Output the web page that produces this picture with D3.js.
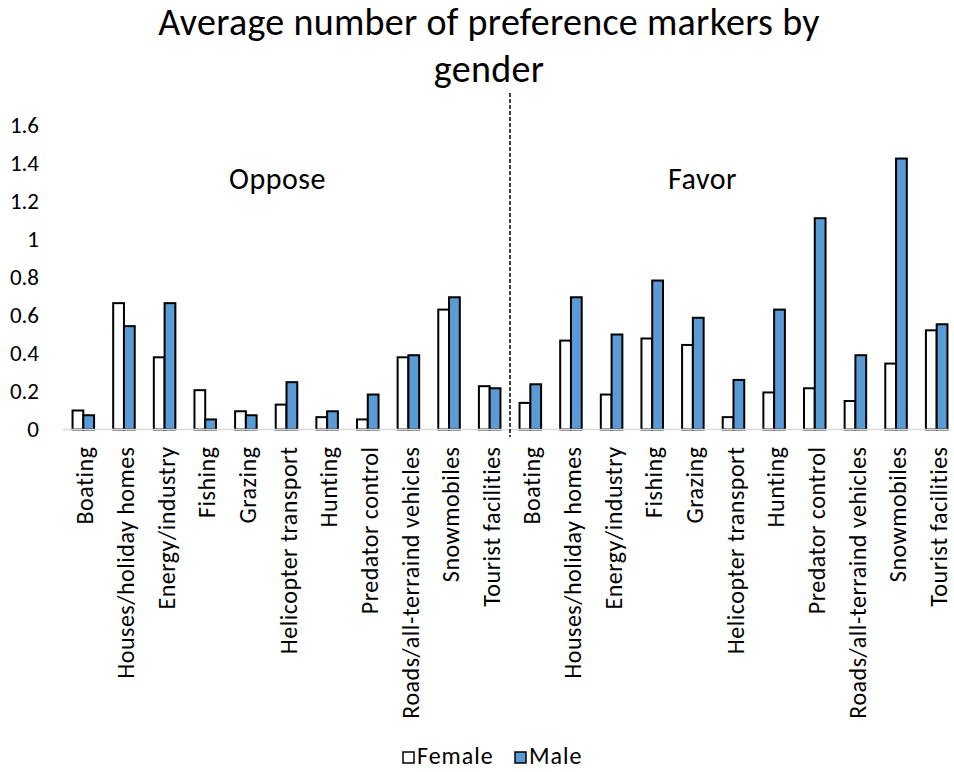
<!DOCTYPE html>
<html>
<head>
<meta charset="utf-8">
<script src="https://cdn.jsdelivr.net/npm/d3@7"></script>
<style>
  body { margin: 0; background: #fff; }
  svg text { font-family: Carlito, Calibri, Lato, sans-serif; fill: #000; }
</style>
</head>
<body>
<div id="chart"></div>
<script>
const activities = ["Boating", "Houses/holiday homes", "Energy/industry", "Fishing", "Grazing",
  "Helicopter transport", "Hunting", "Predator control", "Roads/all-terraind vehicles",
  "Snowmobiles", "Tourist facilities"]
const groups = ["Oppose", "Favor"]
const series = ["Female", "Male"]

// values, oppose block first then favor block
const femaleOppose = [0.10, 0.665, 0.38, 0.207, 0.096, 0.131, 0.065, 0.053, 0.38, 0.631, 0.228]
const maleOppose   = [0.075, 0.544, 0.665, 0.053, 0.075, 0.249, 0.096, 0.184, 0.391, 0.696, 0.217]
const femaleFavor  = [0.14, 0.468, 0.184, 0.479, 0.445, 0.065, 0.195, 0.217, 0.15, 0.347, 0.522]
const maleFavor    = [0.238, 0.696, 0.50, 0.784, 0.588, 0.261, 0.631, 1.112, 0.391, 1.426, 0.554]
const yTicks = [0, 0.2, 0.4, 0.6, 0.8, 1, 1.2, 1.4, 1.6]

const width = 954, height = 772
const blue = "#5b9bd5"

var rows = []
activities.forEach((a, i) => rows.push({ key: "o" + i, label: a, Female: femaleOppose[i], Male: maleOppose[i] }))
activities.forEach((a, i) => rows.push({ key: "f" + i, label: a, Female: femaleFavor[i], Male: maleFavor[i] }))

var svg = d3.select("#chart")
  .append("svg")
    .attr("width", width)
    .attr("height", height)

const x = d3.scaleBand().domain(rows.map(d => d.key)).range([63, 957]).paddingInner(0.47).paddingOuter(0.235)
const x1 = d3.scaleBand().domain(series).range([0, x.bandwidth()])
const y = d3.scaleLinear().domain([0, 1.6]).range([429.5, 125.5])

// title
svg.append("text").attr("x", 489).attr("y", 35).attr("text-anchor", "middle")
  .style("font-size", "38px").style("letter-spacing", "0.3px").text("Average number of preference markers by")
svg.append("text").attr("x", 489).attr("y", 82).attr("text-anchor", "middle")
  .style("font-size", "38px").style("letter-spacing", "0.3px").text("gender")

// y axis labels only
var yAxis = svg.append("g")
  .attr("transform", "translate(46,0)")
  .call(d3.axisLeft(y).tickValues(yTicks).tickSize(0).tickPadding(7).tickFormat(d => String(+d.toFixed(1))))
yAxis.select(".domain").remove()
yAxis.selectAll("text").style("font-size", "23px").style("font-family", null)

// bars
var bars = svg.append("g")
  .selectAll("g")
  .data(rows)
  .enter().append("g")
    .attr("transform", d => `translate(${x(d.key)},0)`)

bars.selectAll("rect")
  .data(d => series.map(s => ({ s: s, v: d[s] })))
  .enter().append("rect")
    .attr("x", d => x1(d.s))
    .attr("width", x1.bandwidth())
    .attr("y", d => y(d.v))
    .attr("height", d => y(0) - y(d.v))
    .attr("fill", d => d.s == "Male" ? blue : "#fff")
    .attr("stroke", "#000")
    .attr("stroke-width", 2)

// category axis
var xAxis = svg.append("g")
  .attr("transform", `translate(0,${y(0)})`)
  .call(d3.axisBottom(x).tickSize(0).tickFormat((k, i) => rows[i].label))
xAxis.select(".domain").remove()
xAxis.selectAll("text")
  .style("font-size", "24px")
  .style("letter-spacing", "0.5px")
  .style("font-family", null)
  .attr("transform", "rotate(-90)")
  .attr("text-anchor", "end")
  .attr("x", -17)
  .attr("y", 0)
  .attr("dy", "0.42em")

svg.append("line")
  .attr("x1", 63).attr("x2", 948)
  .attr("y1", y(0)).attr("y2", y(0))
  .attr("stroke", "#d9d9d9").attr("stroke-width", 1.5)

// divider between oppose and favor
const mid = (x("o10") + x.bandwidth() + x("f0")) / 2
svg.append("line")
  .attr("x1", mid).attr("x2", mid)
  .attr("y1", 93).attr("y2", 437)
  .attr("stroke", "#000").attr("stroke-width", 1.5)
  .attr("stroke-dasharray", "4,2")

// group labels
const groupCenters = [(x("o0") + x("o10") + x.bandwidth()) / 2 - 9, (x("f0") + x("f10") + x.bandwidth()) / 2 - 31]
svg.selectAll(".group-label")
  .data(groups)
  .enter().append("text")
    .attr("class", "group-label")
    .attr("x", (d, i) => groupCenters[i])
    .attr("y", 189)
    .attr("text-anchor", "middle")
    .style("font-size", "30px")
    .style("letter-spacing", "0.5px")
    .text(d => d)

// legend
var legend = svg.append("g").attr("transform", "translate(403,752)")
var item = legend.selectAll("g")
  .data(series)
  .enter().append("g")
    .attr("transform", (d, i) => `translate(${i * 112},0)`)
item.append("rect")
  .attr("width", 11).attr("height", 11)
  .attr("fill", d => d == "Male" ? blue : "#fff")
  .attr("stroke", "#000").attr("stroke-width", 1.5)
item.append("text")
  .attr("x", 14).attr("y", 12)
  .style("font-size", "24px")
  .style("letter-spacing", "1px")
  .text(d => d)
</script>
</body>
</html>
